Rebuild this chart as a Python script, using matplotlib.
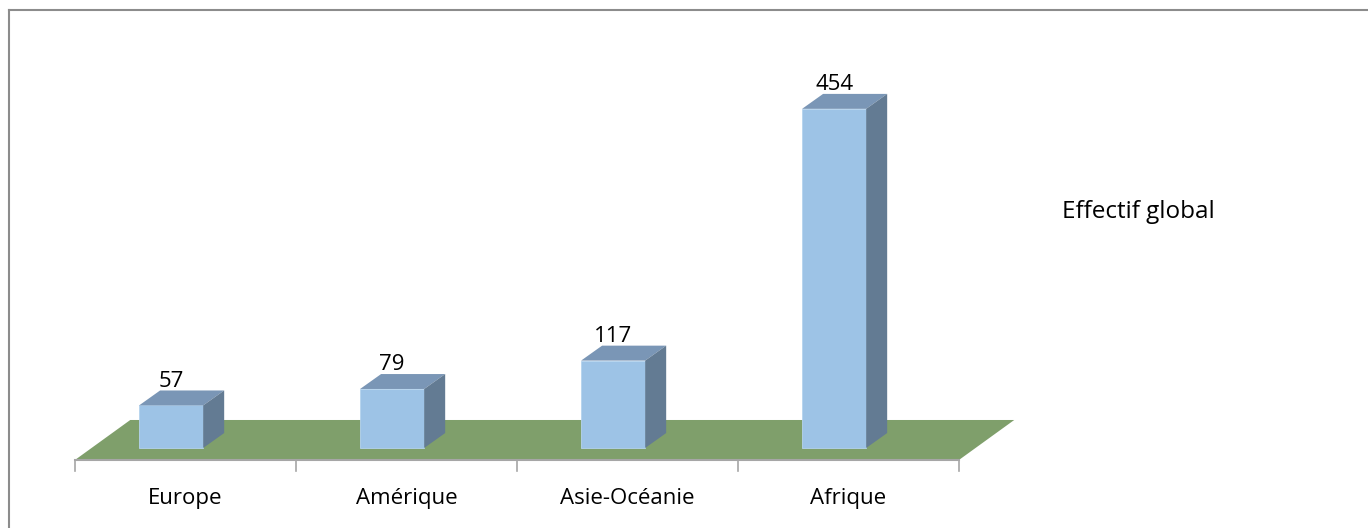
import numpy as np
import matplotlib
matplotlib.use("Agg")
import matplotlib.pyplot as plt
from matplotlib.patches import Polygon
from matplotlib.lines import Line2D

# -- 데이터 --
categories = ["Europe", "Amérique", "Asie-Océanie", "Afrique"]
effectifs = [57, 79, 117, 454]
series_name = "Effectif global"

# -- 색상 (Excel 3D 막대 스타일) --
FRONT = "#9dc3e6"
TOP = "#7a96b6"
SIDE = "#637b93"
FLOOR = "#7f9f6b"
FONT = "Open Sans"
FS = 16

plt.rcParams["font.family"] = [FONT, "DejaVu Sans"]

fig = plt.figure(figsize=(13.68, 5.28), dpi=100)
ax = fig.add_axes([0, 0, 1, 1])
ax.set_xlim(-0.8394, 5.3507)
ax.set_ylim(-107.1, 599.7)
ax.axis("off")

n = len(categories)
xs = np.arange(n)

# -- 바닥 (평행사변형) --
floor_front, floor_back = -16, 37.5
floor_dx = 0.25
ax.add_patch(Polygon([(-0.5, floor_front), (n - 0.5, floor_front),
                      (n - 0.5 + floor_dx, floor_back), (-0.5 + floor_dx, floor_back)],
                     closed=True, facecolor=FLOOR, edgecolor="none", zorder=1))

# 축선 + 눈금
ax.plot([-0.5, n - 0.5], [floor_front, floor_front], color="#a6a6a6", lw=1.5, zorder=2)
for t in np.arange(n + 1) - 0.5:
    ax.plot([t, t], [floor_front, -30.8], color="#a6a6a6", lw=1.2, zorder=2)

# -- 3D 막대 --
left_off, right_off = -0.21, 0.08
dx, dy = 0.095, 20
for x, v, cat in zip(xs, effectifs, categories):
    x0, x1 = x + left_off, x + right_off
    # 앞면
    ax.add_patch(Polygon([(x0, 0), (x1, 0), (x1, v), (x0, v)],
                         closed=True, facecolor=FRONT, edgecolor="#b5d3ee", lw=0.6, zorder=3))
    # 윗면
    ax.add_patch(Polygon([(x0, v), (x1, v), (x1 + dx, v + dy), (x0 + dx, v + dy)],
                         closed=True, facecolor=TOP, edgecolor="none", zorder=3))
    # 옆면
    ax.add_patch(Polygon([(x1, 0), (x1 + dx, dy), (x1 + dx, v + dy), (x1, v)],
                         closed=True, facecolor=SIDE, edgecolor="none", zorder=3))
    # 값 라벨
    ax.text((x0 + x1) / 2, v + dy + 5, f"{v}", ha="center", va="baseline",
            fontsize=FS, color="black", zorder=4)
    # 카테고리 라벨
    ax.text(x, -75.0, cat, ha="center", va="baseline", fontsize=FS, color="black")

# -- 범례 (텍스트만) --
ax.text(3.966, 307.9, series_name, ha="left", va="baseline", fontsize=17.5, color="black")

# -- 외곽선 (위/왼쪽만 보임) --
fig.add_artist(Line2D([8.5 / 1368, 1], [1 - 9.5 / 528, 1 - 9.5 / 528],
                      transform=fig.transFigure, color="#8c8c8c", lw=1.5))
fig.add_artist(Line2D([8.5 / 1368, 8.5 / 1368], [0, 1 - 9.5 / 528],
                      transform=fig.transFigure, color="#8c8c8c", lw=1.5))

fig.savefig("out.png", dpi=100, facecolor="white")
